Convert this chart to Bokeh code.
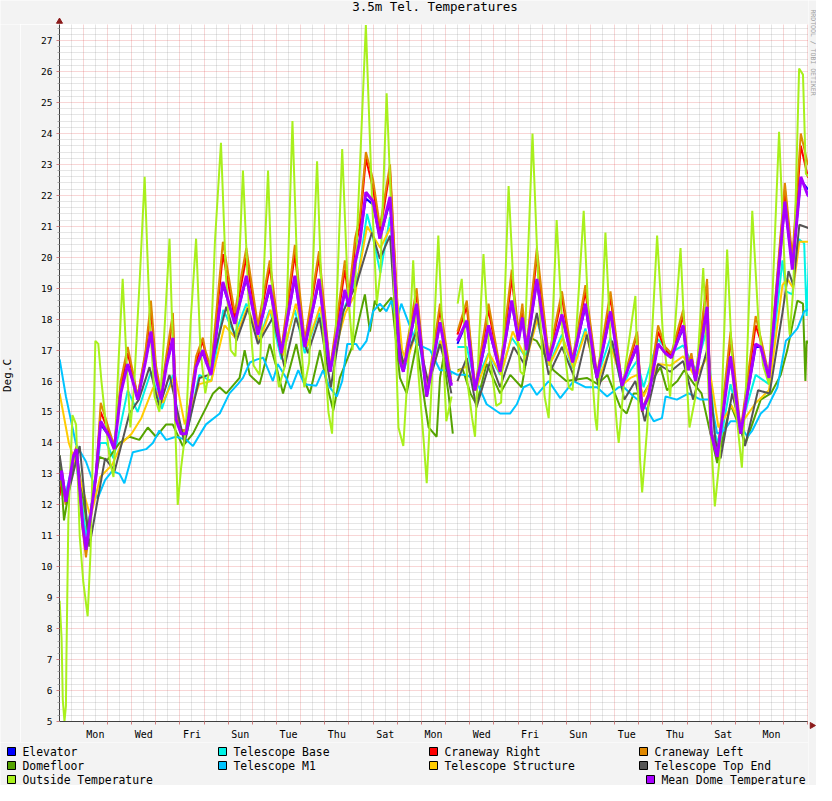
import math
import numpy as np
from bokeh.plotting import figure
from bokeh.layouts import column, row
from bokeh.models import FixedTicker, Range1d
from bokeh.core.properties import value
from bokeh.embed import file_html
from bokeh.resources import INLINE

NA = float("nan")
MONO = "DejaVu Sans Mono"
BG = "#f3f3f3"

title_text = "3.5m Tel. Temperatures"
y_axis_title = "Deg.C"
watermark = "RRDTOOL / TOBI OETIKER"
day_labels = ["Mon", "Wed", "Fri", "Sun", "Tue", "Thu", "Sat", "Mon",
              "Wed", "Fri", "Sun", "Tue", "Thu", "Sat", "Mon"]
y_ticks = list(range(5, 28))

# time axis: days since first Monday 00:00
dome_t = [
    -0.98, -0.90, -0.72, -0.40, -0.28,
    -0.03, 0.11, 0.52, 0.72, 1.08,
    1.28, 1.55, 1.84, 2.05, 2.25,
    2.58, 2.80, 3.01, 3.22, 3.43,
    3.71, 3.84, 4.05, 4.26, 4.67,
    4.95, 5.05, 5.29, 5.78, 6.27,
    6.75, 7.23, 7.72, 8.20, 8.76,
    9.17, 9.76, 10.22, 10.83, 11.00,
    11.25, 11.45, 11.70, 12.00, 12.28,
    12.70, 12.90, 13.11, 13.25, 13.80,
    14.22, 14.77, 15.24, 15.37, 15.49,
    15.88, 16.22, 16.78, 17.26, 17.74,
    18.02, 18.18, 18.35, 18.78, 19.27,
    19.82, 20.26, 20.79, 21.27, 21.83,
    22.31, 22.60, 22.93, 23.14, 23.40,
    23.80, 24.10, 24.35, 24.84, 25.05,
    25.18, 25.35, 25.83, 26.00, 26.25,
    26.80, 27.22, 27.84, 28.05, 28.39,
    29.05, 29.36, 29.71, 30.00, 30.18,
]

mean_dome = [
    12.8, 13.1, 12.1, 13.6, 13.8,
    11.4, 10.55, 12.9, 14.7, 14.2,
    13.8, 15.6, 16.55, 16.0, 15.4,
    16.65, 17.6, 16.1, 15.4, 16.45,
    17.4, 14.75, 14.3, 14.3, 16.45,
    17.0, 16.7, 16.2, 19.2, 17.85,
    19.4, 17.5, 19.1, 16.9, 19.4,
    17.1, 19.3, 16.3, 18.95, 18.4,
    19.8, 20.5, 22.1, 21.8, 20.6,
    21.95, 19.3, 16.65, 16.3, 18.5,
    15.5, 17.9, 15.85, NA, 17.3,
    17.95, 15.7, 17.8, 16.3, 18.6,
    17.3, 18.05, 17.0, 19.3, 16.65,
    18.15, 16.6, 18.5, 16.1, 18.25,
    15.85, 16.5, 17.15, 15.05, 15.5,
    17.2, 16.9, 16.75, 17.8, 16.35,
    16.7, 16.0, 18.4, 14.3, 13.55,
    16.8, 14.3, 17.2, 17.1, 16.1,
    21.8, 19.6, 22.6, 22.0, 21.9,
]

craneway_left = [
    12.6, 13.0, 12.0, 13.6, 13.9,
    11.2, 10.3, 12.9, 15.3, 14.4,
    13.9, 16.0, 17.1, 16.3, 15.5,
    17.0, 18.6, 16.5, 15.6, 16.8,
    18.2, 15.0, 14.4, 14.4, 16.8,
    17.4, 17.0, 16.4, 20.5, 18.2,
    20.3, 17.8, 19.9, 17.0, 20.4,
    17.3, 20.2, 16.4, 19.9, 18.8,
    20.6, 21.3, 23.4, 22.5, 21.0,
    23.0, 20.0, 17.0, 16.5, 19.0,
    15.6, 18.5, 16.0, NA, 17.6,
    18.6, 15.8, 18.5, 16.4, 19.6,
    17.6, 18.5, 17.1, 20.3, 16.8,
    18.9, 16.7, 19.1, 16.2, 18.9,
    15.9, 16.7, 17.6, 15.1, 15.6,
    17.8, 17.1, 16.9, 18.3, 16.5,
    16.9, 16.1, 19.3, 14.4, 13.6,
    17.6, 14.4, 18.1, 17.4, 16.2,
    22.4, 20.0, 24.0, 23.0, 23.0,
]

craneway_right = [
    12.3, 12.9, 12.0, 13.5, 13.8,
    11.3, 10.5, 12.9, 15.0, 14.3,
    13.9, 15.8, 16.9, 16.2, 15.5,
    16.9, 18.3, 16.3, 15.5, 16.6,
    18.0, 14.9, 14.4, 14.4, 16.6,
    17.3, 16.9, 16.3, 20.1, 18.0,
    20.0, 17.6, 19.7, 16.9, 20.1,
    17.2, 20.0, 16.3, 19.6, 18.6,
    20.3, 21.0, 23.2, 22.2, 20.8,
    22.8, 19.8, 16.8, 16.4, 18.8,
    15.5, 18.3, 15.9, NA, 17.5,
    18.4, 15.7, 18.3, 16.3, 19.3,
    17.5, 18.3, 17.0, 20.0, 16.7,
    18.7, 16.6, 18.9, 16.1, 18.7,
    15.8, 16.6, 17.5, 15.0, 15.5,
    17.6, 17.0, 16.8, 18.1, 16.4,
    16.8, 16.0, 19.1, 14.3, 13.5,
    17.3, 14.3, 17.8, 17.3, 16.1,
    22.2, 19.8, 23.6, 22.6, 22.5,
]

elevator = [
    12.7, 13.0, 12.1, 13.6, 13.8,
    11.4, 10.6, 13.0, 14.6, 14.2,
    13.8, 15.7, 16.5, 16.0, 15.4,
    16.7, 17.5, 16.1, 15.4, 16.5,
    17.3, 14.8, 14.3, 14.3, 16.5,
    16.9, 16.7, 16.2, 19.1, 17.9,
    19.3, 17.5, 19.0, 16.9, 19.3,
    17.1, 19.2, 16.3, 18.9, 18.4,
    19.8, 20.6, 21.9, 21.7, 20.6,
    21.8, 19.3, 16.7, 16.3, 18.4,
    15.5, 17.9, 15.9, NA, 17.2,
    17.9, 15.7, 17.7, 16.3, 18.5,
    17.3, 18.0, 17.0, 19.2, 16.7,
    18.1, 16.6, 18.4, 16.1, 18.2,
    15.9, 16.5, 17.1, 15.1, 15.5,
    17.2, 16.9, 16.8, 17.7, 16.4,
    16.7, 16.0, 18.3, 14.4, 13.6,
    16.8, 14.3, 17.1, 17.1, 16.1,
    21.7, 19.7, 22.5, 22.2, 22.3,
]

# (day, value) pairs
telescope_base = [
    (-0.98, 13.4), (-0.75, 12.3), (-0.35, 13.6), (-0.10, 12.3), (0.12, 11.0),
    (0.45, 12.5), (0.70, 14.0), (0.95, 14.0), (1.25, 13.5), (1.55, 14.6),
    (1.84, 15.7), (2.25, 15.0), (2.80, 16.3), (3.25, 15.1), (3.71, 16.2),
    (3.95, 14.5), (4.25, 14.2), (4.80, 16.2), (5.30, 16.0), (5.80, 18.3),
    (6.27, 17.5), (6.75, 18.5), (7.25, 17.3), (7.72, 18.3), (8.20, 16.7),
    (8.76, 18.3), (9.17, 16.9), (9.76, 18.2), (10.22, 16.3), (10.83, 18.4),
    (11.15, 19.0), (11.40, 19.5), (11.75, 21.4), (11.95, 20.8), (12.30, 19.5),
    (12.70, 21.3), (12.95, 18.8), (13.15, 16.6), (13.30, 16.4), (13.80, 17.8),
    (14.22, 15.7), (14.77, 17.3), (15.24, 16.2), (15.37, NA), (15.49, 17.1),
    (15.88, 17.1), (16.22, 15.9), (16.78, 16.9), (17.26, 16.2), (17.74, 17.4),
    (18.30, 16.8), (18.78, 18.0), (19.27, 16.5), (19.82, 17.5), (20.26, 16.4),
    (20.79, 17.7), (21.27, 16.1), (21.83, 17.4), (22.31, 15.8), (22.66, 16.35),
    (22.93, 16.65), (23.20, 15.8), (23.80, 17.35), (24.30, 16.9), (24.84, 17.15),
    (25.35, 16.35), (25.83, 17.7), (26.15, 14.3), (26.35, 13.9), (26.80, 15.9),
    (27.22, 14.5), (27.84, 16.2), (28.39, 15.9), (28.95, 19.9), (29.10, 18.9),
    (29.36, 18.8), (29.60, 20.6), (29.85, 20.45), (29.95, 18.1), (30.05, 20.0),
    (30.18, 20.1),
]

telescope_structure = [
    (-0.98, 15.6), (-0.60, 14.0), (-0.30, 13.3), (0.05, 12.3), (0.30, 11.6),
    (0.70, 12.9), (1.20, 13.3), (1.60, 14.0), (2.00, 14.3), (2.40, 14.8),
    (2.90, 15.8), (3.30, 15.3), (3.80, 16.2), (4.20, 14.6), (4.80, 15.9),
    (5.30, 16.0), (5.85, 17.8), (6.30, 17.4), (6.80, 18.4), (7.30, 17.3),
    (7.75, 18.3), (8.25, 16.8), (8.80, 18.5), (9.25, 17.1), (9.80, 18.4),
    (10.25, 16.5), (10.85, 18.2), (11.25, 18.8), (11.75, 21.0), (12.30, 20.3),
    (12.75, 21.0), (12.95, 19.0), (13.20, 17.0), (13.40, 16.6), (13.85, 17.8),
    (14.25, 15.8), (14.80, 17.3), (15.24, 16.0), (15.37, NA), (15.49, 16.3),
    (15.90, 16.5), (16.25, 15.7), (16.80, 16.9), (17.30, 16.2), (17.78, 17.6),
    (18.35, 16.7), (18.80, 18.0), (19.30, 16.5), (19.85, 17.4), (20.30, 16.4),
    (20.80, 17.6), (21.30, 16.0), (21.85, 17.1), (22.35, 15.9), (22.66, 16.1),
    (22.93, 16.2), (23.20, 15.5), (23.80, 16.55), (24.30, 16.5), (24.84, 16.8),
    (25.35, 16.1), (25.85, 16.8), (26.30, 14.5), (26.85, 15.2), (27.22, 14.6),
    (27.85, 15.3), (28.39, 15.7), (28.95, 19.1), (29.15, 19.3), (29.40, 19.0),
    (29.65, 20.5), (30.18, 20.5),
]

telescope_top_end = [
    (-0.98, 13.6), (-0.70, 12.1), (-0.15, 13.9), (0.25, 10.65), (0.90, 13.5),
    (1.30, 13.1), (1.91, 14.95), (2.30, 15.4), (2.74, 16.45), (3.15, 15.15),
    (3.57, 16.2), (4.19, 14.0), (4.81, 16.1), (5.20, 16.2), (5.92, 18.4),
    (6.34, 17.3), (6.82, 18.35), (7.23, 17.2), (7.85, 18.05), (8.33, 16.45),
    (8.80, 18.05), (9.30, 16.9), (9.78, 18.05), (10.25, 15.8), (10.76, 18.25),
    (11.30, 19.1), (11.95, 20.8), (12.28, 19.95), (12.70, 20.7), (12.95, 17.7),
    (13.25, 16.55), (13.80, 17.6), (14.30, 15.9), (14.77, 17.2), (15.03, 16.45),
    (15.24, 15.6), (15.37, NA), (15.49, 16.0), (15.88, 16.75), (16.28, 15.15),
    (16.85, 16.65), (17.26, 15.8), (17.82, 17.1), (18.30, 16.5), (18.78, 18.2),
    (19.27, 16.2), (19.82, 17.1), (20.40, 16.0), (20.85, 17.5), (21.35, 15.8),
    (21.90, 17.3), (22.40, 15.4), (22.86, 16.0), (23.25, 14.7), (23.80, 16.55),
    (24.30, 16.3), (24.84, 16.65), (25.25, 15.4), (25.83, 17.0), (26.17, 14.1),
    (26.39, 13.5), (26.87, 15.6), (27.40, 13.9), (27.94, 15.7), (28.42, 15.6),
    (28.95, 18.2), (29.20, 19.55), (29.40, 19.1), (29.65, 21.05), (30.18, 20.9),
]

telescope_m1 = [
    (-0.98, 16.7), (-0.72, 15.5), (-0.30, 13.95), (0.11, 13.4), (0.38, 12.8),
    (0.59, 12.2), (0.90, 12.8), (1.20, 13.1), (1.50, 13.0), (1.70, 12.7),
    (2.05, 13.7), (2.60, 13.8), (2.88, 14.0), (3.15, 14.4), (3.43, 14.1),
    (3.84, 14.2), (4.26, 14.1), (4.54, 13.9), (5.08, 14.6), (5.65, 14.95),
    (6.05, 15.6), (6.40, 15.9), (6.61, 16.1), (6.90, 16.6), (7.20, 16.7),
    (7.45, 16.75), (7.85, 16.0), (8.05, 16.55), (8.40, 16.1), (8.60, 15.75),
    (8.90, 16.35), (9.15, 15.9), (9.65, 15.85), (9.93, 16.35), (10.20, 15.8),
    (10.50, 15.5), (10.72, 16.0), (10.93, 17.2), (11.30, 17.2), (11.45, 17.0),
    (11.73, 17.3), (12.00, 18.25), (12.28, 18.5), (12.55, 18.25), (12.76, 18.6),
    (12.97, 17.95), (13.17, 18.5), (13.80, 17.2), (14.36, 17.0), (14.77, 16.35),
    (15.03, 16.35), (15.24, 16.3), (15.49, 16.2), (15.88, 16.2), (16.28, 16.0),
    (16.70, 15.25), (17.26, 14.95), (17.67, 14.95), (17.95, 15.25), (18.23, 15.8),
    (18.50, 15.9), (18.78, 15.55), (19.27, 16.0), (19.75, 15.45), (20.30, 16.0),
    (20.79, 15.8), (21.27, 15.8), (21.69, 15.5), (22.17, 15.8), (22.38, 15.8),
    (22.79, 15.5), (23.20, 15.25), (23.62, 14.7), (23.96, 14.8), (24.11, 15.5),
    (24.58, 15.4), (25.07, 15.6), (25.56, 15.4), (25.97, 15.4), (26.25, 14.3),
    (26.53, 14.4), (26.80, 14.7), (27.10, 14.7), (27.50, 14.2), (27.70, 14.4),
    (28.05, 14.95), (28.33, 15.15), (28.74, 15.8), (29.09, 17.3), (29.30, 17.45),
    (29.57, 17.7), (29.85, 18.25), (30.13, 18.35),
]

domefloor = [
    (-0.98, 13.6), (-0.80, 11.5), (-0.30, 13.8), (0.18, 11.2), (0.66, 13.55),
    (1.00, 13.45), (1.50, 14.0), (1.91, 14.2), (2.32, 14.1), (2.67, 14.5),
    (3.01, 14.2), (3.43, 14.6), (3.70, 14.6), (4.12, 13.9), (4.54, 14.3),
    (5.09, 15.15), (5.37, 15.6), (5.64, 15.8), (5.92, 15.6), (6.47, 16.1),
    (6.68, 17.0), (6.89, 16.2), (7.02, 16.1), (7.30, 15.9), (7.55, 16.65),
    (7.72, 17.2), (8.00, 16.45), (8.27, 15.6), (8.82, 17.2), (9.10, 16.1),
    (9.38, 15.6), (9.80, 17.0), (10.14, 15.7), (10.35, 15.05), (10.62, 16.1),
    (11.18, 17.2), (11.66, 18.8), (11.87, 17.6), (12.07, 18.6), (12.28, 18.25),
    (12.76, 18.7), (13.11, 16.1), (13.39, 15.6), (13.80, 17.2), (14.15, 15.25),
    (14.30, 14.5), (14.63, 14.2), (14.77, 16.1), (14.91, 16.75), (15.12, 15.6),
    (15.30, 14.3), (15.37, NA), (15.50, 16.35), (15.70, 16.4), (16.03, 15.6),
    (16.28, 15.25), (16.70, 16.55), (17.26, 15.6), (17.68, 16.2), (18.15, 15.8),
    (18.50, 17.4), (18.77, 17.3), (19.47, 16.35), (20.00, 16.0), (20.85, 16.1),
    (21.30, 15.9), (21.70, 16.2), (22.24, 15.15), (22.50, 14.95), (22.79, 15.6),
    (23.20, 15.6), (23.90, 16.45), (24.17, 15.7), (24.60, 16.0), (24.88, 16.35),
    (25.29, 15.9), (25.60, 15.6), (25.97, 14.3), (26.25, 13.35), (26.80, 15.25),
    (27.43, 14.0), (28.05, 15.4), (28.47, 15.6), (28.88, 16.2), (29.15, 17.0),
    (29.57, 18.6), (29.80, 18.5), (29.90, 16.0), (29.95, 17.3), (30.18, 17.1),
]

outside_temperature = [
    (-0.98, 8.9), (-0.90, 7.7), (-0.85, 5.7), (-0.78, 5.0), (-0.72, 5.5),
    (-0.70, 7.0), (-0.62, 11.5), (-0.45, 14.9), (-0.30, 14.6), (-0.15, 11.0),
    (0.00, 9.5), (0.18, 8.4), (0.30, 10.5), (0.50, 17.3), (0.62, 17.2),
    (0.75, 16.0), (0.95, 14.5), (1.10, 13.4), (1.25, 12.9), (1.45, 16.5),
    (1.63, 19.3), (1.80, 16.5), (1.95, 14.5), (2.10, 15.8), (2.35, 19.5),
    (2.54, 22.6), (2.75, 18.0), (2.95, 15.5), (3.15, 15.0), (3.35, 17.5),
    (3.57, 20.6), (3.75, 16.0), (3.91, 12.0), (4.05, 13.2), (4.25, 14.5),
    (4.45, 18.0), (4.67, 20.6), (4.85, 17.0), (5.05, 15.6), (5.25, 16.5),
    (5.45, 20.5), (5.70, 23.7), (5.90, 19.5), (6.10, 17.0), (6.30, 16.8),
    (6.61, 22.8), (6.85, 18.5), (7.05, 16.5), (7.30, 16.2), (7.65, 22.8),
    (7.90, 17.0), (8.10, 15.8), (8.35, 16.5), (8.66, 24.4), (8.90, 18.5),
    (9.15, 15.8), (9.35, 16.6), (9.68, 23.1), (9.90, 18.0), (10.15, 15.0),
    (10.30, 14.3), (10.72, 23.5), (10.95, 19.0), (11.15, 17.0), (11.35, 21.0),
    (11.70, 27.5), (11.95, 22.0), (12.15, 18.5), (12.30, 19.5), (12.56, 25.3),
    (12.80, 20.5), (13.05, 14.5), (13.25, 13.9), (13.45, 16.5), (13.66, 19.9),
    (13.85, 16.5), (14.10, 14.0), (14.22, 12.7), (14.40, 15.5), (14.70, 20.7),
    (14.90, 17.0), (15.03, 14.7), (15.25, 15.5), (15.37, NA), (15.50, 18.5),
    (15.67, 19.3), (15.90, 16.0), (16.10, 14.8), (16.22, 14.2), (16.40, 17.5),
    (16.57, 20.1), (16.80, 17.0), (17.10, 15.2), (17.30, 15.3), (17.61, 22.3),
    (17.85, 18.5), (18.10, 16.3), (18.23, 16.2), (18.60, 24.0), (18.85, 19.0),
    (19.10, 15.5), (19.27, 14.8), (19.60, 21.2), (19.85, 17.5), (20.10, 15.8),
    (20.26, 15.7), (20.72, 21.5), (20.95, 17.5), (21.20, 14.8), (21.27, 14.4),
    (21.62, 20.8), (21.85, 17.0), (22.10, 14.5), (22.17, 14.0), (22.45, 16.5),
    (22.86, 18.75), (23.05, 13.5), (23.14, 12.4), (23.35, 14.5), (23.76, 20.7),
    (24.00, 17.5), (24.30, 15.5), (24.73, 20.3), (24.95, 16.5), (25.10, 14.5),
    (25.35, 15.5), (25.67, 19.65), (25.90, 15.5), (26.15, 11.95), (26.35, 13.5),
    (26.66, 20.25), (26.90, 16.0), (27.10, 14.5), (27.27, 13.2), (27.45, 16.0),
    (27.70, 21.5), (27.95, 18.0), (28.15, 16.5), (28.39, 15.9), (28.81, 24.05),
    (29.05, 19.5), (29.25, 17.5), (29.40, 19.0), (29.64, 26.1), (29.80, 25.9),
    (29.92, 22.7), (30.18, 22.5),
]


def split(pairs):
    return np.array([a for a, _ in pairs]), np.array([b for _, b in pairs])


# name, t, v, colour, width, legend box left (page px), legend row
series = [
    ("Elevator", np.array(dome_t), np.array(elevator), "#0000ff", 2, 15, 0),
    ("Telescope Base", *split(telescope_base), "#00f2e6", 2, 226, 0),
    ("Craneway Right", np.array(dome_t), np.array(craneway_right), "#ff0000", 2, 437, 0),
    ("Craneway Left", np.array(dome_t), np.array(craneway_left), "#e08800", 2, 647, 0),
    ("Domefloor", *split(domefloor), "#55a300", 2, 15, 1),
    ("Telescope M1", *split(telescope_m1), "#00c4ff", 2, 226, 1),
    ("Telescope Structure", *split(telescope_structure), "#ffcc00", 2, 437, 1),
    ("Telescope Top End", *split(telescope_top_end), "#555555", 2, 647, 1),
    ("Outside Temperature", *split(outside_temperature), "#a8f01c", 2, 15, 2),
    ("Mean Dome Temperature", np.array(dome_t), np.array(mean_dome), "#a800ff", 3, 654, 2),
]


def strip(width, height, x0, x1, y_top, y_bottom):
    """A plain drawing strip whose data units are page pixels."""
    f = figure(width=width, height=height, x_range=Range1d(x0, x1),
               y_range=Range1d(y_bottom, y_top), output_backend="svg",
               toolbar_location=None, title=None, x_axis_type=None,
               y_axis_type=None, min_border=0)
    f.background_fill_color = BG
    f.border_fill_color = BG
    f.outline_line_color = None
    f.grid.visible = False
    return f


# ---------------- title strip (page y 8..32) ----------------
pt = strip(808, 24, 8, 816, 8, 32)
pt.text(x=[442.5], y=[13.5], text=[title_text], text_font=value(MONO),
        text_font_size=value("12.5px"), text_align="center", text_baseline="middle",
        text_color="black")
pt.scatter(x=[67], y=[29], marker="triangle", size=6, fill_color="#8b1a1a",
           line_color="#8b1a1a")

# ---------------- y title strip (page x 8..28) ----------------
py = strip(20, 718, 8, 28, 32, 750)
py.text(x=[15], y=[383], text=[y_axis_title], angle=math.pi / 2,
        text_font=value(MONO), text_font_size=value("11px"), text_align="center",
        text_baseline="middle", text_color="black")

# ---------------- main chart (page x 28..816, y 32..750) ----------------
PX_PER_DAY = 24.15
X0 = -0.986
p = figure(width=788, height=718, title=None,
           x_range=Range1d(X0, X0 + 749 / PX_PER_DAY), y_range=Range1d(5, 27.52),
           output_backend="svg", toolbar_location=None,
           min_border_left=39, min_border_right=0,
           min_border_top=0, min_border_bottom=17)
p.background_fill_color = "white"
p.border_fill_color = BG
p.outline_line_color = None

day_label_pos = [0.5 + 2 * i for i in range(len(day_labels))]
p.xaxis.ticker = FixedTicker(ticks=day_label_pos, minor_ticks=list(range(0, 31)))
p.xaxis.major_label_overrides = {pos: lab for pos, lab in zip(day_label_pos, day_labels)}
p.xaxis.major_tick_out = 0
p.xaxis.major_tick_in = 0
p.xaxis.minor_tick_out = 3
p.xaxis.minor_tick_in = 0
p.xaxis.minor_tick_line_color = "#d08080"
p.xaxis.axis_line_color = "#404040"
p.xaxis.major_label_text_font = MONO
p.xaxis.major_label_text_font_size = "10px"
p.xaxis.major_label_text_color = "black"
p.xaxis.major_label_standoff = 4

y_minor = [round(5 + 0.2 * i, 1) for i in range(1, 113) if i % 5 != 0]
p.yaxis.ticker = FixedTicker(ticks=y_ticks, minor_ticks=y_minor)
p.yaxis.major_tick_out = 3
p.yaxis.major_tick_in = 0
p.yaxis.major_tick_line_color = "#d08080"
p.yaxis.minor_tick_out = 2
p.yaxis.minor_tick_in = 0
p.yaxis.minor_tick_line_color = "#aaaaaa"
p.yaxis.axis_line_color = "#404040"
p.yaxis.major_label_text_font = MONO
p.yaxis.major_label_text_font_size = "9.5px"
p.yaxis.major_label_text_color = "black"
p.yaxis.major_label_standoff = 4

p.xgrid.ticker = FixedTicker(ticks=list(range(0, 31)),
                             minor_ticks=[i + 0.5 for i in range(-1, 30)])
p.ygrid.ticker = FixedTicker(ticks=y_ticks, minor_ticks=y_minor)
for g in (p.xgrid, p.ygrid):
    g.grid_line_color = "#de4848"
    g.grid_line_alpha = 0.45
    g.grid_line_dash = "1 1"
    g.minor_grid_line_color = "#8f8f8f"
    g.minor_grid_line_alpha = 0.45
    g.minor_grid_line_dash = "1 1"

for name, t, v, color, w, bx, rw in series:
    p.line(t, v, line_color=color, line_width=w)

# ---------------- legend strip (page y 750..793) ----------------
row_center = [759, 773, 787]
pl = strip(808, 43, 8, 816, 750, 793)
pl.rect(x=[s[5] + 4 for s in series], y=[row_center[s[6]] for s in series],
        width=8, height=8, fill_color=[s[3] for s in series], line_color="black",
        line_width=1)
pl.text(x=[s[5] + 15 for s in series], y=[row_center[s[6]] for s in series],
        text=[s[0] for s in series], text_font=value(MONO),
        text_font_size=value("11.4px"), text_align="left", text_baseline="middle",
        text_color="black")

# ---------------- right strip (page x 816..824) ----------------
pw = strip(8, 785, 816, 824, 8, 793)
pw.text(x=[820], y=[60], text=[watermark], angle=-math.pi / 2,
        text_font=value(MONO), text_font_size=value("6.5px"), text_align="center",
        text_baseline="middle", text_color="#a0a0a0")
pw.scatter(x=[819.5], y=[733], marker="triangle", angle=-math.pi / 2, size=6,
           fill_color="#8b1a1a", line_color="#8b1a1a")

for f in (pt, py, p, pl, pw):
    if "frame_align" in f.properties():
        f.frame_align = False

layout = row(column(pt, row(py, p), pl), pw)
open("out.html", "w").write(file_html(layout, INLINE))
